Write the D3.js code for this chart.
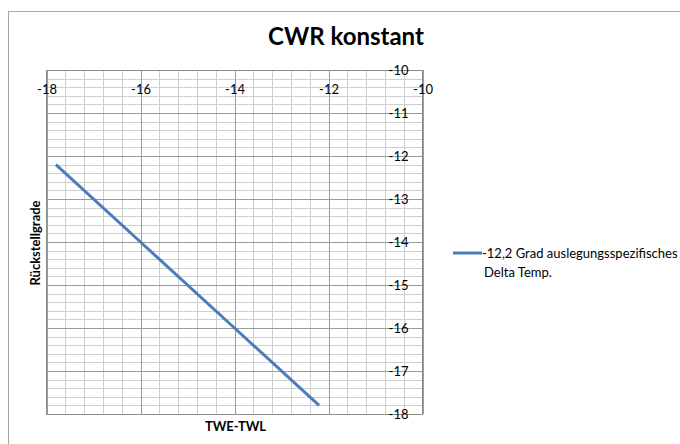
<!DOCTYPE html>
<html><head><meta charset="utf-8">
<script src="https://cdn.jsdelivr.net/npm/d3@7/dist/d3.min.js"></script>
<style>
body{margin:0;background:#fff;}
svg{display:block;font-family:Lato,"Open Sans",sans-serif;}
</style></head>
<body>
<svg id="c" width="680" height="444"></svg>
<script>
const title = "CWR konstant";
const xTitle = "TWE-TWL";
const yTitle = "Rückstellgrade";
const seriesName = ["-12,2 Grad auslegungsspezifisches", "Delta Temp."];
const xValues = [-17.8, -16, -14, -12.2];
const yValues = [-12.2, -14, -16, -17.8];
const xTicks = [-18, -16, -14, -12, -10];
const yTicks = [-10, -11, -12, -13, -14, -15, -16, -17, -18];

(function () {
const svg = d3.select("#c");
const pLeft = 46.5, pRight = 422.5, pTop = 70, pBottom = 414;
const x = d3.scaleLinear().domain([-18, -10]).range([pLeft, pRight]);
const y = d3.scaleLinear().domain([-10, -18]).range([pTop, pBottom]);

// outer chart border
svg.append("rect").attr("x", 8.5).attr("y", 11.5).attr("width", 700).attr("height", 500)
  .attr("fill", "#fff").attr("stroke", "#a6a6a6").attr("stroke-width", 1);

// minor grid
const xMinor = d3.range(0, 21).map(i => -18 + i * 0.4);
const yMinor = d3.range(0, 41).map(i => -10 - i * 0.2);
const g = svg.append("g");
g.selectAll(".vx").data(xMinor).join("line")
  .attr("x1", d => Math.round(x(d)) + 0.5).attr("x2", d => Math.round(x(d)) + 0.5)
  .attr("y1", pTop).attr("y2", pBottom).attr("stroke", "#cfcfcf").attr("stroke-width", 1);
g.selectAll(".hy").data(yMinor).join("line")
  .attr("y1", d => Math.round(y(d)) + 0.5).attr("y2", d => Math.round(y(d)) + 0.5)
  .attr("x1", pLeft).attr("x2", pRight).attr("stroke", "#cfcfcf").attr("stroke-width", 1);
// major grid
g.selectAll(".mx").data(xTicks).join("line")
  .attr("x1", d => Math.round(x(d)) + 0.5).attr("x2", d => Math.round(x(d)) + 0.5)
  .attr("y1", pTop).attr("y2", pBottom).attr("stroke", "#9a9a9a").attr("stroke-width", 1);
g.selectAll(".my").data(yTicks).join("line")
  .attr("y1", d => Math.round(y(d)) + 0.5).attr("y2", d => Math.round(y(d)) + 0.5)
  .attr("x1", pLeft).attr("x2", pRight).attr("stroke", "#9a9a9a").attr("stroke-width", 1);
// plot border
svg.append("rect").attr("x", pLeft).attr("y", pTop + 0.5).attr("width", pRight - pLeft).attr("height", pBottom - pTop)
  .attr("fill", "none").attr("stroke", "#8c8c8c").attr("stroke-width", 1);

// x axis labels (below top edge)
const xa = svg.append("g").attr("transform", `translate(0,${pTop})`)
  .call(d3.axisBottom(x).tickValues(xTicks).tickSize(0).tickPadding(15).tickFormat(d => d));
xa.select(".domain").remove();
xa.selectAll("text").attr("font-size", 13).attr("font-family", "Lato").attr("fill", "#000");

// y axis labels (left of right edge)
const ya = svg.append("g").attr("transform", `translate(${pRight},0)`)
  .call(d3.axisLeft(y).tickValues(yTicks).tickSize(0).tickPadding(14).tickFormat(d => d));
ya.select(".domain").remove();
ya.selectAll("text").attr("font-size", 13).attr("font-family", "Lato").attr("fill", "#000");

// data line
const pts = xValues.map((v, i) => [v, yValues[i]]);
svg.append("path").datum(pts)
  .attr("d", d3.line().x(d => x(d[0])).y(d => y(d[1])))
  .attr("fill", "none").attr("stroke", "#4a7ebb").attr("stroke-width", 3);

// title
svg.append("text").attr("x", 346).attr("y", 45).attr("text-anchor", "middle")
  .attr("font-size", 24).attr("font-weight", "bold").attr("font-family", "Lato").text(title);
// axis titles
svg.append("text").attr("x", 235.5).attr("y", 431).attr("text-anchor", "middle")
  .attr("font-size", 13).attr("font-weight", "bold").attr("font-family", "Lato").text(xTitle);
svg.append("text").attr("transform", "translate(40,243) rotate(-90)").attr("text-anchor", "middle")
  .attr("font-size", 13).attr("font-weight", "bold").attr("font-family", "Lato").text(yTitle);

// legend
svg.append("line").attr("x1", 453).attr("x2", 482).attr("y1", 253).attr("y2", 253)
  .attr("stroke", "#4a7ebb").attr("stroke-width", 3);
svg.append("text").attr("x", 482).attr("y", 257.5).attr("font-size", 13).attr("font-family", "Lato").text(seriesName[0]);
svg.append("text").attr("x", 484).attr("y", 276.5).attr("font-size", 13).attr("font-family", "Lato").text(seriesName[1]);
})();
</script>
</body></html>
